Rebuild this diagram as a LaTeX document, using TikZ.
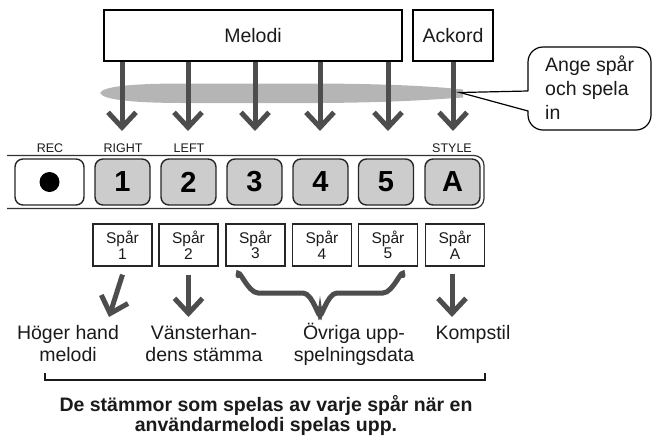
\documentclass[tikz,border=0pt]{standalone}
\usepackage{fontspec}
\setmainfont{Liberation Sans}
\usetikzlibrary{arrows.meta}
\definecolor{arrgray}{HTML}{4D4D4D}
\definecolor{btngray}{HTML}{CCCCCC}
\definecolor{ovalgray}{HTML}{B5B5B5}
\definecolor{txt}{HTML}{1A1A1A}
\begin{document}
\begin{tikzpicture}[x=1pt,y=-1pt,
  bigbox/.style={draw=black, line width=2pt, fill=white, inner sep=0pt, font=\fontsize{19.5}{22}\selectfont, text=txt},
  btn/.style={draw=black!85, line width=1.4pt, rounded corners=8pt, fill=btngray, minimum width=55pt, minimum height=46pt, inner sep=0pt, font=\fontsize{29}{30}\selectfont\bfseries, text=black},
  recbtn/.style={btn, fill=white, minimum width=69pt},
  lbl/.style={font=\fontsize{12.5}{13}\selectfont, text=txt, inner sep=0pt},
  spbox/.style={draw=black!85, line width=1.2pt, minimum width=59pt, minimum height=42pt, inner sep=0pt, align=center, font=\fontsize{15.5}{15.5}\selectfont, text=txt},
  arr/.style={draw=arrgray, line width=5pt, -{Straight Barb[length=15pt,width=28pt]}},
  big/.style={font=\fontsize{19.5}{22}\selectfont, text=txt, inner sep=0pt, align=center},
]
\useasboundingbox (0,0) rectangle (652,437);
% grey oval
\fill[ovalgray] (100,93) .. controls (103,86) and (135,83.5) .. (185,83.5) -- (320,83.5)
  .. controls (400,84) and (440,87) .. (463,89.5) -- (463,97.5)
  .. controls (440,99) and (400,102.5) .. (320,103) -- (185,103)
  .. controls (135,103) and (103,100) .. (100,93) -- cycle;
% top boxes
\node[bigbox, minimum width=298pt, minimum height=51pt] (melodi) at (253,35.5) {Melodi};
\node[bigbox, minimum width=80pt, minimum height=51pt] (ackord) at (453,35.5) {Ackord};
% arrow ends
\coordinate (t1) at (122,131);
\coordinate (t2) at (188,131);
\coordinate (t3) at (255,131);
\coordinate (t4) at (320,131);
\coordinate (t5) at (388,131);
\coordinate (tA) at (453,131);
\draw[arr] (melodi.south -| t1) -- (t1);
\draw[arr] (melodi.south -| t2) -- (t2);
\draw[arr] (melodi.south -| t3) -- (t3);
\draw[arr] (melodi.south -| t4) -- (t4);
\draw[arr] (melodi.south -| t5) -- (t5);
\draw[arr] (ackord.south -| tA) -- (tA);
% callout
\draw[line width=1.2pt, fill=white] (528,91) -- (460,92.5) -- (528,111) [rounded corners=15pt] -- (528,130) -- (651,130) -- (651,47) -- (528,47) -- (528,91);
\node[big, align=left, anchor=north west, font=\fontsize{19.5}{24}\selectfont] (callout) at (545,53) {\rule{0pt}{18pt}Ange spår\\och spela\\in};
% panel
\draw[line width=1.2pt, draw=black!80, rounded corners=10pt] (7,155.5) -- (484,155.5) -- (484,208.5) -- (7,208.5);
% buttons
\node[recbtn] (rec) at (49.5,182) {};
\fill[black] (rec.center) circle (10pt);
\node[btn] (b1) at (122.5,182) {1};
\node[btn] (b2) at (188.5,182) {2};
\node[btn] (b3) at (254.5,182) {3};
\node[btn] (b4) at (320.5,182) {4};
\node[btn] (b5) at (386,182) {5};
\node[btn] (bA) at (452.5,182) {A};
\node[lbl] (lrec) at (50,148.5) {REC};
\node[lbl] (lright) at (123,148.5) {RIGHT};
\node[lbl] (lleft) at (189,148.5) {LEFT};
\node[lbl] (lstyle) at (452,148.5) {STYLE};
% track boxes
\node[spbox] (s1) at (122.5,245) {Spår\\1};
\node[spbox] (s2) at (188.5,245) {Spår\\2};
\node[spbox] (s3) at (255.5,245) {Spår\\3};
\node[spbox] (s4) at (322,245) {Spår\\4};
\node[spbox] (s5) at (388,245) {Spår\\5};
\node[spbox] (sA) at (455,245) {Spår\\A};
% bottom labels
\node[big, anchor=north] (hoger) at (68,321) {\rule{0pt}{18pt}Höger hand\\melodi};
\node[big, anchor=north] (vanster) at (204,321) {\rule{0pt}{18pt}Vänsterhan-\\dens stämma};
\node[big, anchor=north] (ovriga) at (354,321) {\rule{0pt}{18pt}Övriga upp-\\spelningsdata};
\node[big, anchor=base] (komp) at (473,339) {Kompstil};
% lower arrows
\coordinate (e1) at (109,317);
\coordinate (e2) at (188.5,317);
\coordinate (eA) at (452,317);
\draw[arr] ([shift={(0,8)}]s1.south) -- (e1);
\draw[arr] ([shift={(0,8)}]s2.south) -- (e2);
\draw[arr] ([shift={(-3,7)}]sA.south) -- (eA);
% brace
\coordinate (btip) at (320,313);
\draw[draw=arrgray, line width=5pt, line cap=round]
  ([shift={(-17.5,9)}]s3.south) to[out=90,in=180] (258,293) -- (303,293) to[out=0,in=-90] (btip)
  to[out=-90,in=180] (337,293) -- (383,293) to[out=0,in=90] ([shift={(15,9)}]s5.south);
% bracket
\draw[line width=2.5pt, draw=txt] (45,373) -- (45,380) -- (485,380) -- (485,373);
\node[anchor=north, align=center, inner sep=0pt, text=txt, font=\fontsize{19.5}{20}\selectfont\bfseries] (note) at (266,393)
  {\rule{0pt}{18pt}De stämmor som spelas av varje spår när en\\användarmelodi spelas upp.};
\end{tikzpicture}
\end{document}
